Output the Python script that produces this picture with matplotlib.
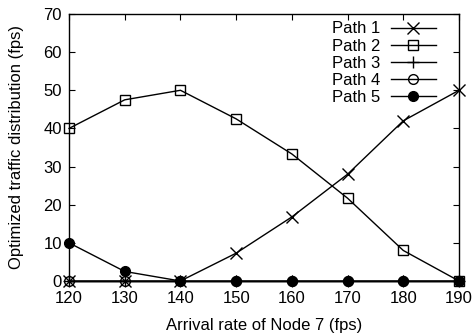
import matplotlib
matplotlib.use("Agg")
import matplotlib.pyplot as plt

plt.rcParams["font.family"] = ["Liberation Sans", "DejaVu Sans"]

rate = [120, 130, 140, 150, 160, 170, 180, 190]
path1 = [0, 0, 0, 7.3, 16.8, 28, 42, 50]
path2 = [40, 47.5, 50, 42.5, 33.3, 21.7, 8, 0]
path3 = [0, 0, 0, 0, 0, 0, 0, 0]
path4 = [0, 0, 0, 0, 0, 0, 0, 0]
path5 = [10, 2.5, 0, 0, 0, 0, 0, 0]

fs = 12

fig = plt.figure(figsize=(4.74, 3.34), dpi=100)
ax = fig.add_axes([0.1456, 0.1587, 0.8228, 0.7994])

kw = dict(color="black", linewidth=1.0, clip_on=False)
ax.plot(rate, path1, marker="x", markersize=8, markeredgewidth=1.0, label="Path 1", **kw)
ax.plot(rate, path2, marker="s", markersize=7.5, markerfacecolor="none", markeredgewidth=1.0, label="Path 2", **kw)
ax.plot(rate, path3, marker="+", markersize=9, markeredgewidth=1.0, label="Path 3", **kw)
ax.plot(rate, path4, marker="o", markersize=7, markerfacecolor="none", markeredgewidth=1.0, label="Path 4", **kw)
ax.plot(rate, path5, marker="o", markersize=7, markerfacecolor="black", label="Path 5", **kw)

ax.set_xlim(120, 190)
ax.set_ylim(0, 70)
ax.set_xticks(rate)
ax.set_yticks(range(0, 71, 10))
ax.tick_params(direction="in", top=True, right=True, labelsize=fs, length=4)
ax.tick_params(axis="x", pad=7)
ax.tick_params(axis="y", pad=5)
ax.set_xlabel("Arrival rate of Node 7 (fps)", fontsize=fs, labelpad=9)
ax.set_ylabel("Optimized traffic distribution (fps)", fontsize=fs, labelpad=14)

ax.legend(loc="upper right", bbox_to_anchor=(0.94, 0.972), frameon=False,
          markerfirst=False, fontsize=fs, handlelength=2.7, labelspacing=0.13,
          borderaxespad=0, borderpad=0, handletextpad=0.6)

for s in ax.spines.values():
    s.set_linewidth(1.0)

fig.savefig("out.png", dpi=100)
